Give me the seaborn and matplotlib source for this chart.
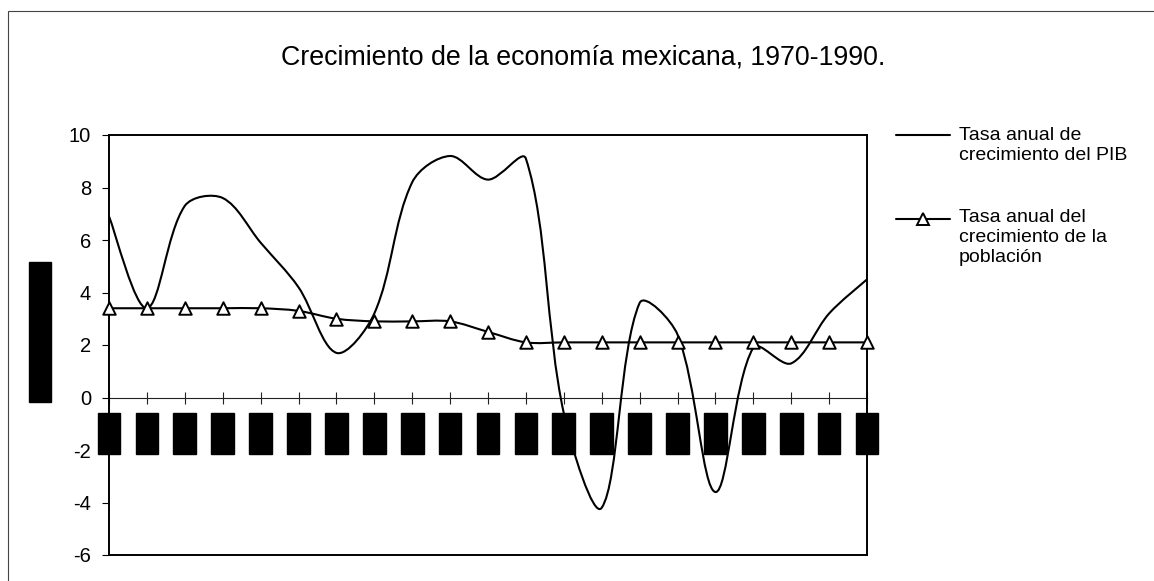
"""Crecimiento de la economía mexicana, 1970-1990."""

import matplotlib

matplotlib.use("Agg")
import matplotlib.pyplot as plt
import numpy as np
import pandas as pd
import seaborn as sns
from matplotlib.lines import Line2D
from matplotlib.patches import PathPatch, Rectangle
from matplotlib.path import Path

# Data
years = list(range(1970, 1991))
pib = [6.9, 3.4, 7.3, 7.6, 5.9, 4.2, 1.7, 3.2, 8.2, 9.2, 8.3,
       9.1, -0.6, -4.2, 3.6, 2.4, -3.6, 1.9, 1.3, 3.2, 4.5]
poblacion = [3.4, 3.4, 3.4, 3.4, 3.4, 3.3, 3.0, 2.9, 2.9, 2.9, 2.5,
             2.1, 2.1, 2.1, 2.1, 2.1, 2.1, 2.1, 2.1, 2.1, 2.1]
year_labels = [str(y) for y in years]
y_ticks = list(range(-6, 11, 2))

title = "Crecimiento de la economía mexicana, 1970-1990."
label_pib = "Tasa anual de\ncrecimiento del PIB"
label_pob = "Tasa anual del\ncrecimiento de la\npoblación"
y_label = "Tasa de crecimiento"

df = pd.DataFrame({"year": years, "pib": pib, "poblacion": poblacion})

W, H = 1154, 581


def smooth_path(ax, x, y):
    """Bezier path through the points, Excel-style smoothing.

    Tangents follow the neighbours, control arms are weighted by the
    on-screen length of the adjoining segments.
    """
    pts = np.column_stack([np.asarray(x, float), np.asarray(y, float)])
    scr = ax.transData.transform(pts)
    n = len(pts)
    seg = np.hypot(*np.diff(scr, axis=0).T)

    out_arm, in_arm = [], []
    for i in range(n):
        prev_i = max(i - 1, 0)
        next_i = min(i + 1, n - 1)
        tangent = pts[next_i] - pts[prev_i]
        d_prev = seg[i - 1] if i > 0 else 0.0
        d_next = seg[i] if i < n - 1 else 0.0
        if i == 0 or i == n - 1:
            w_out = w_in = 0.5
        else:
            w_out = d_next / (d_prev + d_next)
            w_in = d_prev / (d_prev + d_next)
        out_arm.append(pts[i] + tangent * w_out / 3)
        in_arm.append(pts[i] - tangent * w_in / 3)

    verts = [tuple(pts[0])]
    codes = [Path.MOVETO]
    for i in range(n - 1):
        verts += [tuple(out_arm[i]), tuple(in_arm[i + 1]), tuple(pts[i + 1])]
        codes += [Path.CURVE4] * 3
    return Path(verts, codes)


sns.set_theme(style="white")
plt.rcParams["font.family"] = ["Liberation Sans", "DejaVu Sans"]
plt.rcParams["axes.unicode_minus"] = False

fig = plt.figure(figsize=(W / 100, H / 100), dpi=100)
ax = fig.add_axes([109 / W, 1 - 555 / H, 758 / W, 420 / H])

# chart border (runs off the right and bottom edges)
fig.add_artist(Rectangle((8 / W, -0.5), 2, 0.5 + 1 - 11 / H,
                         transform=fig.transFigure, fill=False,
                         ec="#444444", lw=0.8))

ax.set_xlim(1970, 1990)
ax.set_ylim(-6, 10)

# smoothed lines
ax.add_patch(PathPatch(smooth_path(ax, df["year"], df["pib"]), fill=False,
                       ec="black", lw=1.5, zorder=3))
ax.add_patch(PathPatch(smooth_path(ax, df["year"], df["poblacion"]),
                       fill=False, ec="black", lw=1.5, zorder=3))
sns.scatterplot(data=df, x="year", y="poblacion", marker="^", s=81,
                facecolor="white", edgecolor="black", linewidth=1.4,
                ax=ax, zorder=4, clip_on=False)

ax.set_xlim(1970, 1990)
ax.set_ylim(-6, 10)
ax.set_yticks(y_ticks)
ax.set_yticklabels([str(t) for t in y_ticks])
ax.tick_params(axis="x", bottom=False, labelbottom=False)
ax.tick_params(axis="y", left=True, direction="out", length=5, width=0.8,
               color="black", labelsize=14.5, labelcolor="black", pad=8)
ax.set_xlabel("")
for side in ["left", "right", "top", "bottom"]:
    ax.spines[side].set_color("black")
    ax.spines[side].set_linewidth(1.4)

# category axis crossing at y = 0
secax = ax.secondary_xaxis(0, transform=ax.transData)
secax.set_xticks(years, labels=year_labels)
secax.spines["bottom"].set_color("#222222")
secax.spines["bottom"].set_linewidth(0.8)
secax.tick_params(axis="x", direction="inout", length=8, width=0.8,
                  color="#222222", labelsize=10.5, labelrotation=90,
                  labelcolor="black", pad=10)
for lbl in secax.get_xticklabels():
    lbl.set_bbox(dict(boxstyle="square,pad=0.3", fc="black", ec="black"))

ax.set_ylabel(y_label, fontsize=10.5, color="black",
              bbox=dict(boxstyle="square,pad=0.3", fc="black", ec="black"))
ax.yaxis.label.set_va("center")
ax.yaxis.set_label_coords((40 - 109) / 758, (555 - 332) / 420)

fig.text(583 / W, 1 - 57 / H, title, ha="center", va="center",
         fontsize=19.3, color="black")

# legend, drawn Excel-style with the key beside the first text line
lx = [896 / W, 950 / W]
fig.add_artist(Line2D(lx, [1 - 135 / H] * 2, color="black", lw=1.5))
fig.add_artist(Line2D(lx, [1 - 219 / H] * 2, color="black", lw=1.5))
fig.add_artist(Line2D([sum(lx) / 2], [1 - 219 / H], marker="^", ms=9,
                      mfc="white", mec="black", mew=1.4, lw=0))
fig.text(959 / W, 1 - 127 / H, label_pib, va="top", fontsize=14,
         color="black", linespacing=1.25)
fig.text(959 / W, 1 - 209 / H, label_pob, va="top", fontsize=14,
         color="black", linespacing=1.25)

fig.savefig("out.png", dpi=100)
plt.close(fig)
